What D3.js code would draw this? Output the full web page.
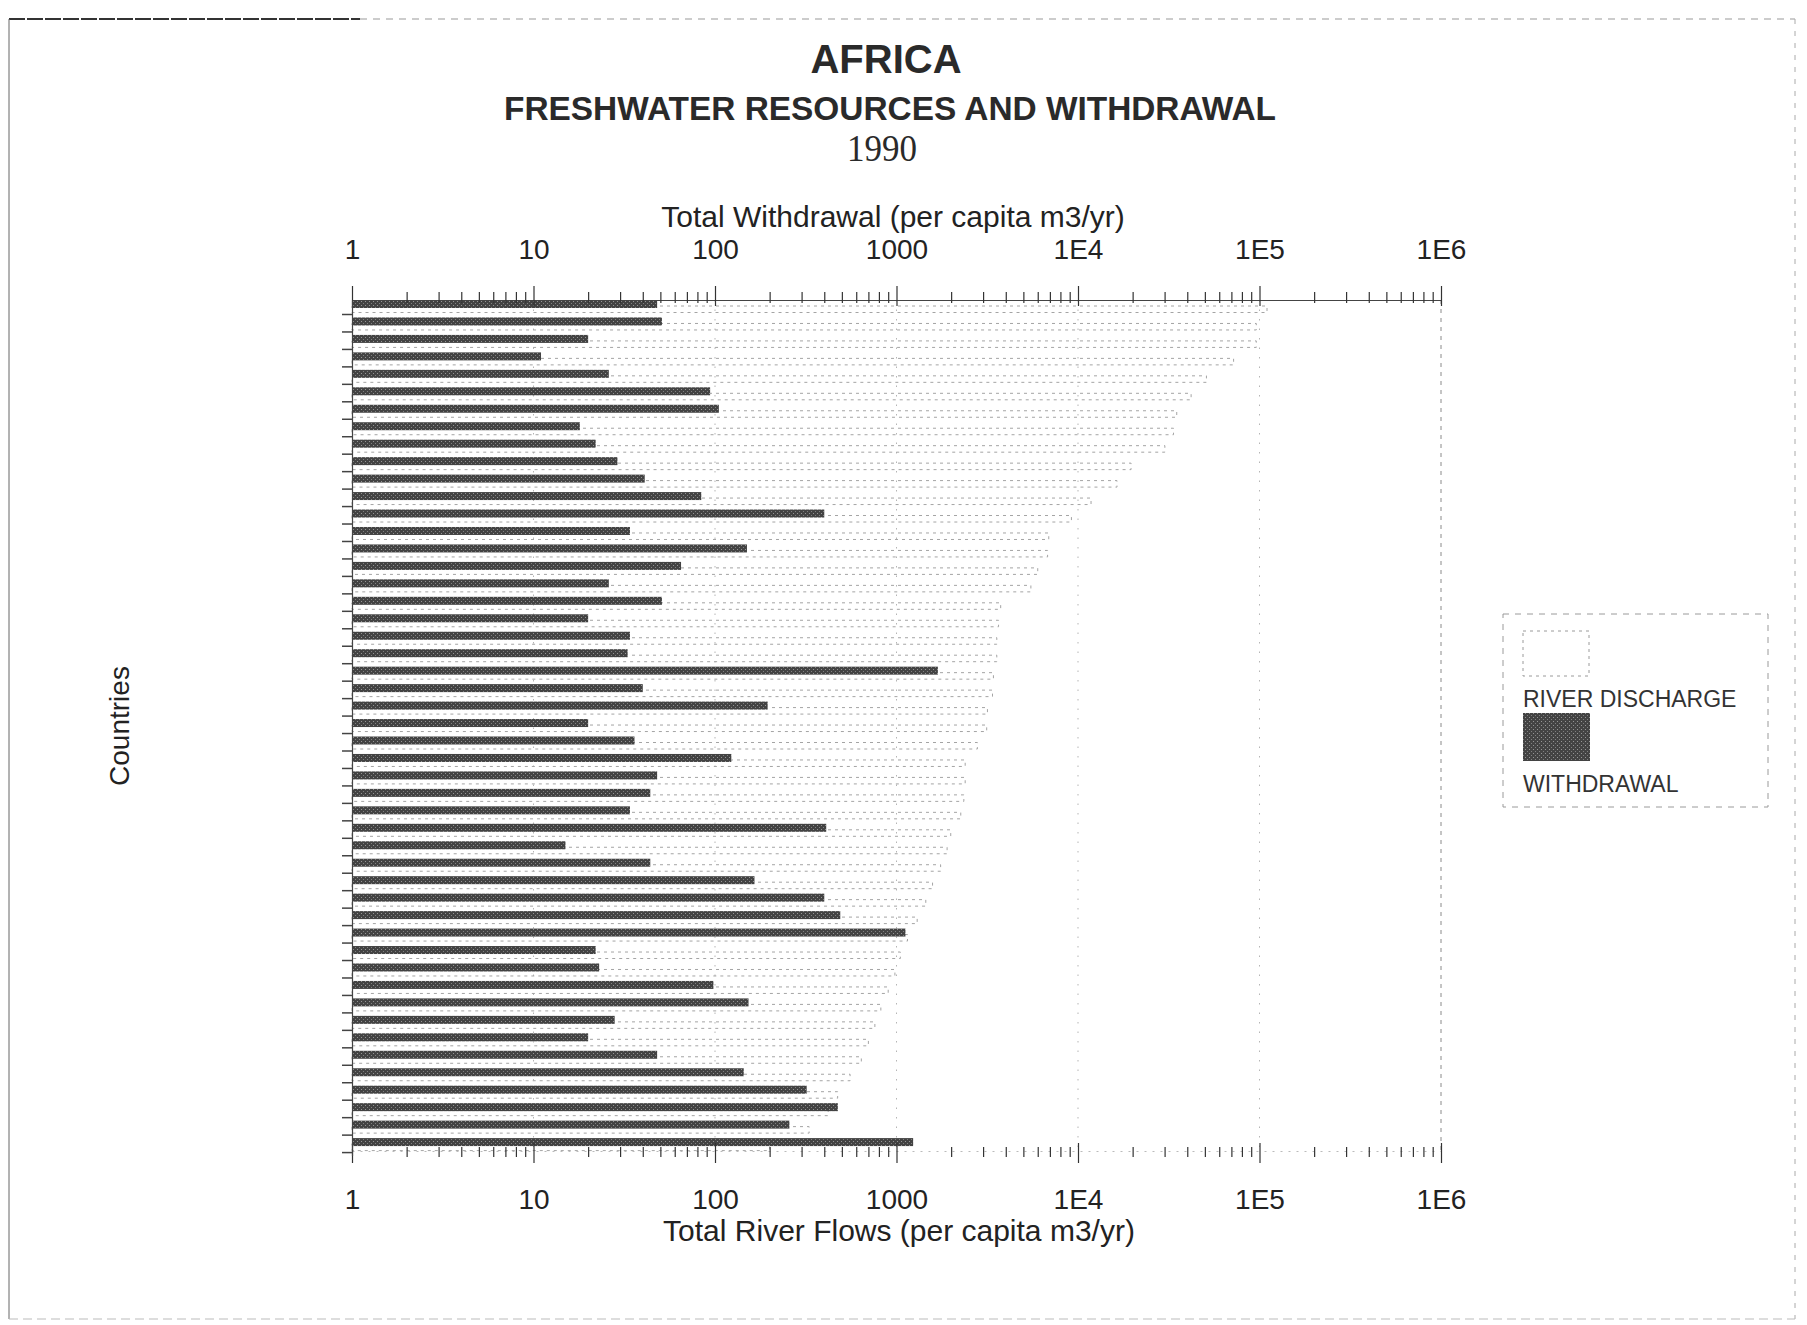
<!DOCTYPE html>
<html>
<head>
<meta charset="utf-8">
<script src="https://cdn.jsdelivr.net/npm/d3@7/dist/d3.min.js"></script>
<style>
  html, body { margin: 0; padding: 0; background: #ffffff; }
  svg { display: block; }
</style>
</head>
<body>
<svg id="chart" width="1807" height="1325"></svg>
<script>
// Countries are listed in the order of their river discharge (largest first).
const countries = [
  "R01","R02","R03","R04","R05","R06","R07","R08","R09","R10",
  "R11","R12","R13","R14","R15","R16","R17","R18","R19","R20",
  "R21","R22","R23","R24","R25","R26","R27","R28","R29","R30",
  "R31","R32","R33","R34","R35","R36","R37","R38","R39","R40",
  "R41","R42","R43","R44","R45","R46","R47","R48","R49"
];

// Total withdrawal, per capita m3/yr
const withdrawal = [
  48, 51, 20, 11, 26, 94, 105, 18, 22, 29,
  41, 84, 400, 34, 150, 65, 26, 51, 20, 34,
  33, 1690, 40, 195, 20, 36, 123, 48, 44, 34,
  410, 15, 44, 165, 400, 490, 1120, 22, 23, 98,
  153, 28, 20, 48, 144, 320, 475, 257, 1235
];

// Total river flows (river discharge), per capita m3/yr
const discharge = [
  110000, 96000, 96000, 72000, 51000, 42000, 35000, 33600, 30100, 19600,
  16400, 11800, 9200, 6900, 6800, 6000, 5500, 3750, 3650, 3570,
  3570, 3420, 3380, 3170, 3140, 2790, 2390, 2390, 2350, 2260,
  1990, 1900, 1750, 1580, 1450, 1300, 1150, 1050, 980, 900,
  820, 760, 700, 640, 555, 474, 420, 330, 200
];

const majorTicks = [1, 10, 100, 1000, 1e4, 1e5, 1e6];
const majorLabels = ["1", "10", "100", "1000", "1E4", "1E5", "1E6"];

const titleText = "AFRICA";
const subtitleText = "FRESHWATER RESOURCES AND WITHDRAWAL";
const yearText = "1990";
const topAxisTitle = "Total Withdrawal (per capita m3/yr)";
const bottomAxisTitle = "Total River Flows (per capita m3/yr)";
const yAxisTitle = "Countries";
const legendLabels = ["RIVER DISCHARGE", "WITHDRAWAL"];

// ---------------------------------------------------------------------------
const svg = d3.select("#chart");
const sans = "'Liberation Sans', Arial, Helvetica, sans-serif";
const serif = "'Liberation Serif', 'Times New Roman', serif";

const plotTop = 300, plotBottom = 1151;

const x = d3.scaleLog().domain([1, 1e6]).range([352, 1441]);
const y = d3.scaleBand().domain(countries).range([300, 300 + 17.46 * countries.length]).paddingInner(0);

// halftone-like fill for the withdrawal bars
const defs = svg.append("defs");
const pat = defs.append("pattern")
  .attr("id", "halftone").attr("patternUnits", "userSpaceOnUse")
  .attr("width", 4).attr("height", 4);
pat.append("rect").attr("width", 4).attr("height", 4).attr("fill", "#434343");
pat.append("rect").attr("x", 1).attr("y", 1).attr("width", 1).attr("height", 1).attr("fill", "#959595");
pat.append("rect").attr("x", 3).attr("y", 3).attr("width", 1).attr("height", 1).attr("fill", "#808080");

svg.append("rect").attr("width", 1807).attr("height", 1325).attr("fill", "#ffffff");

// page frame
svg.append("line").attr("x1", 9).attr("x2", 360).attr("y1", 19).attr("y2", 19)
  .attr("stroke", "#333").attr("stroke-width", 2).attr("stroke-dasharray", "16,2");
svg.append("line").attr("x1", 360).attr("x2", 1795).attr("y1", 19).attr("y2", 19)
  .attr("stroke", "#999").attr("stroke-width", 1).attr("stroke-dasharray", "7,6");
svg.append("line").attr("x1", 9).attr("x2", 9).attr("y1", 19).attr("y2", 1319)
  .attr("stroke", "#666").attr("stroke-width", 1);
svg.append("line").attr("x1", 1795).attr("x2", 1795).attr("y1", 19).attr("y2", 1319)
  .attr("stroke", "#aaa").attr("stroke-width", 1).attr("stroke-dasharray", "5,7");
svg.append("line").attr("x1", 9).attr("x2", 1795).attr("y1", 1319).attr("y2", 1319)
  .attr("stroke", "#bbb").attr("stroke-width", 1).attr("stroke-dasharray", "9,5");

// titles
svg.append("text").attr("x", 886).attr("y", 73).attr("text-anchor", "middle")
  .attr("font-family", sans).attr("font-weight", "bold").attr("font-size", 40)
  .attr("fill", "#2a2a2a").text(titleText);
svg.append("text").attr("x", 890).attr("y", 120).attr("text-anchor", "middle")
  .attr("font-family", sans).attr("font-weight", "bold").attr("font-size", 34)
  .attr("textLength", 772).attr("lengthAdjust", "spacingAndGlyphs")
  .attr("fill", "#2a2a2a").text(subtitleText);
svg.append("text").attr("x", 882).attr("y", 161).attr("text-anchor", "middle")
  .attr("font-family", serif).attr("font-size", 37)
  .attr("textLength", 70).attr("lengthAdjust", "spacingAndGlyphs")
  .attr("fill", "#2a2a2a").text(yearText);

// vertical decade grid lines
svg.append("g").selectAll("line")
  .data(majorTicks.slice(1))
  .join("line")
  .attr("x1", d => x(d)).attr("x2", d => x(d))
  .attr("y1", plotTop).attr("y2", plotBottom)
  .attr("stroke", d => d === 1e6 ? "#8a8a8a" : "#b5b5b5")
  .attr("stroke-width", 1)
  .attr("stroke-dasharray", d => d === 1e6 ? "4,5" : "1.5,8");

// river discharge: outlined boxes
svg.append("g").selectAll("rect")
  .data(countries)
  .join("rect")
  .attr("x", x(1))
  .attr("y", d => y(d) + 6)
  .attr("width", (d, i) => x(discharge[i]) - x(1))
  .attr("height", 6.5)
  .attr("fill", "none")
  .attr("stroke", "#a4a4a4")
  .attr("stroke-width", 1)
  .attr("stroke-dasharray", "3,4");

// withdrawal: dark bars
svg.append("g").selectAll("rect")
  .data(countries)
  .join("rect")
  .attr("x", x(1))
  .attr("y", d => y(d))
  .attr("width", (d, i) => x(withdrawal[i]) - x(1))
  .attr("height", 8)
  .attr("fill", "url(#halftone)");

// log tick values: 1..9 of every decade
const allTicks = [];
for (let e = 0; e < 6; e++) for (let m = 1; m < 10; m++) allTicks.push(m * Math.pow(10, e));
allTicks.push(1e6);
const isMajor = d => majorTicks.includes(d);
const fmt = d => { const k = majorTicks.indexOf(d); return k >= 0 ? majorLabels[k] : ""; };

// top axis
const topAxis = svg.append("g").attr("transform", `translate(0,${plotTop})`)
  .call(d3.axisTop(x).tickValues(allTicks).tickFormat(fmt).tickSizeOuter(0));
topAxis.select(".domain").attr("stroke", "#444").attr("stroke-width", 1.2);
topAxis.selectAll(".tick line")
  .attr("y1", d => isMajor(d) ? 6 : 3)
  .attr("y2", d => isMajor(d) ? -14 : -8)
  .attr("stroke", "#333").attr("stroke-width", 1.2);
topAxis.selectAll(".tick text")
  .attr("y", -41).attr("dy", 0)
  .attr("font-family", sans).attr("font-size", 28).attr("fill", "#222");

// bottom axis
const bottomAxis = svg.append("g").attr("transform", `translate(0,${plotBottom})`)
  .call(d3.axisBottom(x).tickValues(allTicks).tickFormat(fmt).tickSizeOuter(0));
bottomAxis.select(".domain").attr("stroke", "#bbb").attr("stroke-width", 1).attr("stroke-dasharray", "2,6");
bottomAxis.selectAll(".tick line")
  .attr("y1", d => isMajor(d) ? -8 : -4)
  .attr("y2", d => isMajor(d) ? 12 : 6)
  .attr("stroke", "#333").attr("stroke-width", 1.2);
bottomAxis.selectAll(".tick text")
  .attr("y", 58).attr("dy", 0)
  .attr("font-family", sans).attr("font-size", 28).attr("fill", "#222");

// left axis: band boundaries
const leftAxis = svg.append("g").attr("transform", `translate(${x(1)},0)`)
  .call(d3.axisLeft(y).tickFormat("").tickSize(10).tickSizeOuter(0));
leftAxis.select(".domain").attr("stroke", "#444").attr("stroke-width", 1.2);
leftAxis.selectAll(".tick").attr("transform", d => `translate(0,${y(d) + 14.5})`);
leftAxis.selectAll(".tick line").attr("stroke", "#444").attr("stroke-width", 1.5);

// axis titles
svg.append("text").attr("x", 893).attr("y", 227).attr("text-anchor", "middle")
  .attr("font-family", sans).attr("font-size", 30).attr("fill", "#222").text(topAxisTitle);
svg.append("text").attr("x", 899).attr("y", 1241).attr("text-anchor", "middle")
  .attr("font-family", sans).attr("font-size", 30).attr("fill", "#222").text(bottomAxisTitle);
svg.append("text").attr("transform", "translate(129,726) rotate(-90)").attr("text-anchor", "middle")
  .attr("font-family", sans).attr("font-size", 28).attr("fill", "#222").text(yAxisTitle);

// legend
const lg = svg.append("g");
lg.append("rect").attr("x", 1503).attr("y", 614).attr("width", 265).attr("height", 193)
  .attr("fill", "none").attr("stroke", "#9a9a9a").attr("stroke-width", 1).attr("stroke-dasharray", "6,6");
lg.append("rect").attr("x", 1523).attr("y", 631).attr("width", 66).attr("height", 45)
  .attr("fill", "none").attr("stroke", "#9a9a9a").attr("stroke-width", 1).attr("stroke-dasharray", "3,4");
lg.append("text").attr("x", 1523).attr("y", 707)
  .attr("font-family", sans).attr("font-size", 23).attr("fill", "#333").text(legendLabels[0]);
lg.append("rect").attr("x", 1523).attr("y", 713).attr("width", 67).attr("height", 48)
  .attr("fill", "url(#halftone)");
lg.append("text").attr("x", 1523).attr("y", 792)
  .attr("font-family", sans).attr("font-size", 23).attr("fill", "#333").text(legendLabels[1]);
</script>
</body>
</html>
